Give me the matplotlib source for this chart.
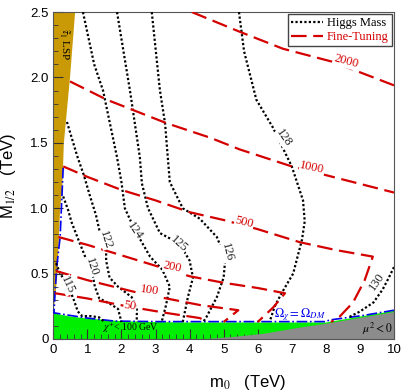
import numpy as np
import matplotlib.pyplot as plt
from matplotlib.ticker import MultipleLocator, FuncFormatter

plt.rcParams['mathtext.fontset'] = 'stix'
SERIF = ['Liberation Serif', 'DejaVu Serif']
SANS = ['Liberation Sans', 'DejaVu Sans']

# Higgs mass contours, (m0, M1/2) in TeV
h115_x = [0.08, 0.2, 0.43, 0.6, 0.72, 0.85, 1.1, 1.35, 1.5]
h115_y = [0.58, 0.5, 0.41, 0.3, 0.21, 0.175, 0.175, 0.165, 0.13]
h120_x = [0.29, 0.43, 0.54, 0.78, 0.98, 1.13, 1.22, 1.35, 1.66, 1.9, 1.96, 2.0]
h120_y = [1.09, 0.99, 0.89, 0.73, 0.6, 0.52, 0.4, 0.31, 0.27, 0.23, 0.17, 0.13]
h122_x = [0.4, 0.7, 0.9, 1.08, 1.25, 1.37, 1.55, 1.55, 1.65, 1.9, 2.3, 2.45, 2.45]
h122_y = [1.66, 1.4, 1.25, 1.09, 0.95, 0.81, 0.72, 0.6, 0.47, 0.4, 0.32, 0.24, 0.13]
h124_x = [0.87, 1.2, 1.46, 1.87, 2.0, 2.1, 2.4, 2.84, 3.2, 3.42, 3.3, 3.18]
h124_y = [2.5, 2.1, 1.9, 1.39, 1.2, 1.0, 0.83, 0.63, 0.53, 0.4, 0.25, 0.13]
h125_x = [1.87, 2.25, 2.54, 2.6, 2.78, 3.13, 3.7, 4.0, 4.1, 3.95, 3.8]
h125_y = [2.5, 1.9, 1.39, 1.19, 1.0, 0.81, 0.73, 0.6, 0.47, 0.32, 0.13]
h126_x = [2.89, 3.13, 3.28, 3.36, 3.42, 3.8, 4.3, 4.8, 5.05, 5.0, 4.8, 4.5, 4.4]
h126_y = [2.5, 1.9, 1.65, 1.39, 1.2, 1.0, 0.92, 0.78, 0.62, 0.47, 0.32, 0.17, 0.13]
h128_x = [5.45, 5.6, 5.96, 6.44, 7.0, 7.33, 7.38, 7.3, 7.04, 6.7, 6.5, 6.36]
h128_y = [2.5, 2.2, 1.83, 1.62, 1.32, 1.06, 0.9, 0.76, 0.5, 0.35, 0.25, 0.14]
h130_x = [10.0, 9.85, 9.67, 9.4, 9.0, 8.7]
h130_y = [0.55, 0.47, 0.38, 0.28, 0.21, 0.17]

# fine-tuning contours
ft2000_x = [4.07, 5.47, 6.74, 8.2, 10.0]
ft2000_y = [2.5, 2.35, 2.22, 2.12, 1.94]
ft1000_x = [0.49, 1.57, 3.33, 4.6, 5.47, 7.0, 8.5, 10.0]
ft1000_y = [1.97, 1.83, 1.65, 1.54, 1.45, 1.32, 1.22, 1.12]
ft500_x = [0.29, 1.0, 2.0, 3.0, 4.0, 5.0, 6.0, 7.24, 8.3, 9.38, 9.14, 8.8, 8.4, 8.15]
ft500_y = [1.32, 1.24, 1.14, 1.06, 0.97, 0.91, 0.84, 0.74, 0.68, 0.63, 0.45, 0.28, 0.17, 0.13]
ft200_x = [0.15, 1.0, 2.0, 3.0, 4.0, 5.0, 6.0, 6.8, 6.45, 6.0]
ft200_y = [0.78, 0.72, 0.64, 0.56, 0.48, 0.43, 0.39, 0.35, 0.24, 0.13]
ft100_x = [0.08, 1.0, 2.54, 4.3, 5.43, 5.0]
ft100_y = [0.52, 0.45, 0.35, 0.26, 0.22, 0.13]
ft50_x = [0.05, 1.0, 2.16, 3.3, 4.3, 4.5]
ft50_y = [0.35, 0.31, 0.25, 0.2, 0.16, 0.135]

# excluded regions
stau_x = [0.0, 0.05, 0.12, 0.2, 0.26, 0.31, 0.49, 0.64, 0.0]
stau_y = [0.22, 0.3, 0.5, 1.0, 1.14, 1.5, 2.0, 2.5, 2.5]
lep_x = [0.0, 0.5, 1.0, 1.5, 2.0, 3.0, 4.0, 8.0, 8.1, 9.1, 10.0]
lep_y = [0.2, 0.175, 0.16, 0.15, 0.14, 0.133, 0.13, 0.13, 0.135, 0.18, 0.22]
mu_x = [4.3, 5.3, 6.2, 7.2, 8.1, 9.1, 10.0]
mu_y = [0.0, 0.02, 0.045, 0.09, 0.125, 0.17, 0.21]
relic_x = [0.29, 0.2, 0.1, 0.05, 0.02, 0.5, 1.0, 1.8, 3.0, 8.0, 8.1, 9.1, 10.0]
relic_y = [1.31, 0.78, 0.55, 0.35, 0.2, 0.18, 0.16, 0.137, 0.133, 0.133, 0.145, 0.18, 0.22]

higgs_labels = [('115', 0.43, 0.41, -65), ('120', 1.13, 0.55, -72), ('122', 1.55, 0.76, -72),
                ('124', 2.4, 0.83, -55), ('125', 3.7, 0.73, -42), ('126', 5.1, 0.66, -75),
                ('128', 6.75, 1.54, -55), ('130', 9.5, 0.44, 55)]
ft_labels = [('2000', 8.6, 2.12, -15), ('1000', 7.6, 1.31, -12), ('500', 5.6, 0.89, -14),
             ('200', 3.5, 0.55, -12), ('100', 2.83, 0.37, -8), ('50', 2.25, 0.25, -8)]

red = '#d40000'
fig = plt.figure(figsize=(4.07, 3.91), dpi=100)
ax = fig.add_axes([0.131, 0.133, 0.837, 0.836])

ax.fill(stau_x, stau_y, color='#c99a06', lw=0, zorder=1)
ax.fill_between(lep_x, 0, lep_y, color='#00ee00', lw=0, zorder=1)
ax.fill_between(mu_x, 0, mu_y, color='#8c8c8c', lw=0, zorder=2)
ax.plot(relic_x, relic_y, color='#0000ee', lw=1.2, ls='-.', zorder=3)

dot = (0, (1, 1))
for hx, hy in [(h115_x, h115_y), (h120_x, h120_y), (h122_x, h122_y), (h124_x, h124_y),
               (h125_x, h125_y), (h126_x, h126_y), (h128_x, h128_y), (h130_x, h130_y)]:
	ax.plot(hx, hy, color='k', lw=1.6, ls=dot, zorder=4)
for fx, fy in [(ft2000_x, ft2000_y), (ft1000_x, ft1000_y), (ft500_x, ft500_y),
               (ft200_x, ft200_y), (ft100_x, ft100_y), (ft50_x, ft50_y)]:
	ax.plot(fx, fy, color=red, lw=1.6, ls=(0, (7, 3)), zorder=4)

for t, x, y, r in higgs_labels:
	ax.text(x, y, t, rotation=r, ha='center', va='center', fontsize=9, family=SERIF,
			color='#222222', zorder=5, bbox=dict(fc='white', ec='none', pad=0.3))
for t, x, y, r in ft_labels:
	ax.text(x, y, t, rotation=r, ha='center', va='center', fontsize=9, family=SERIF,
			color=red, zorder=5, bbox=dict(fc='white', ec='none', pad=0.3))

ax.text(0.3, 2.25, r'$\tilde{\tau}_1$ LSP', rotation=-90, ha='center', va='center',
		fontsize=8, family=SERIF, zorder=5)
ax.text(2.25, 0.085, r'$\chi^{+}$< 100 GeV', ha='center', va='center', fontsize=7,
		family=SERIF, zorder=5)
ax.text(7.25, 0.185, r'$\Omega_{\chi}=\Omega_{DM}$', ha='center', va='center', fontsize=9,
		color='#0000ee', zorder=5)
ax.text(9.5, 0.075, r'$\mu^2 < 0$', ha='center', va='center', fontsize=8.5, zorder=5)

ax.plot([], [], color='k', lw=1.6, ls=dot, label='Higgs Mass')
ax.plot([], [], color=red, lw=1.6, ls=(0, (7, 3)), label='Fine-Tuning')
leg = ax.legend(loc='upper right', prop={'family': SERIF, 'size': 9}, fancybox=False,
				edgecolor='#444444', framealpha=1, borderaxespad=0.15, handlelength=2.6,
				handletextpad=0.3, borderpad=0.25, labelspacing=0.15)
leg.get_texts()[1].set_color(red)

ax.set_xlim(0, 10)
ax.set_ylim(0, 2.5)
ax.xaxis.set_major_locator(MultipleLocator(1))
ax.xaxis.set_minor_locator(MultipleLocator(0.2))
ax.yaxis.set_major_locator(MultipleLocator(0.5))
ax.yaxis.set_minor_locator(MultipleLocator(0.1))
ax.yaxis.set_major_formatter(FuncFormatter(lambda v, p: '0' if abs(v) < 1e-9 else '%.1f' % v))
ax.tick_params(which='both', direction='in', top=False, right=False, labelsize=9.5,
			   colors='#333333', labelcolor='k')
ax.tick_params(which='major', length=7)
ax.tick_params(which='minor', length=3.5)
for lab in ax.get_xticklabels() + ax.get_yticklabels():
	lab.set_family(SANS)
for s in ax.spines.values():
	s.set_color('#555555')

ax.set_xlabel(r'm$_0$   (TeV)', fontsize=12, family=SANS)
ax.set_ylabel(r'M$_{1/2}$   (TeV)', fontsize=12, family=SANS)
ax.xaxis.set_label_coords(0.571, -0.104)
ax.yaxis.set_label_coords(-0.104, 0.5)

plt.savefig('out.png', dpi=100)
